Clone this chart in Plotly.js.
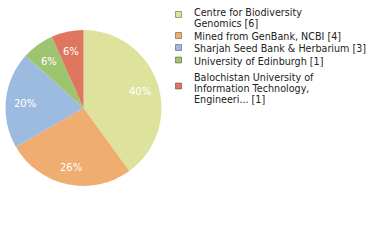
<!DOCTYPE html>
<html><head><meta charset="utf-8">
<script src="https://cdn.plot.ly/plotly-3.0.1.min.js"></script>
<style>html,body{margin:0;padding:0;background:#fff}#c{width:380px;height:240px}</style>
</head><body><div id="c"></div>
<script>
const labels = ["Centre for Biodiversity<br>Genomics [6]", "Mined from GenBank, NCBI [4]", "Sharjah Seed Bank &amp; Herbarium [3]", "University of Edinburgh [1]", "Balochistan University of<br>Information Technology,<br>Engineeri... [1]"];
const values = [6, 4, 3, 1, 1];
const colors = ["#dde39d", "#f0ad70", "#9dbbe0", "#9dc570", "#df7760"];

const W = 380, H = 240;
const total = values.reduce((a, b) => a + b, 0);
const pctText = values.map(v => Math.floor(v / total * 100) + "%");

// pie geometry (pixels)
const cx = 83.5, cy = 108, R = 78;
const annotations = [];
let acc = 0;
values.forEach((v, i) => {
  const mid = (acc + v / 2) / total * 2 * Math.PI;
  acc += v;
  const px = cx + 0.76 * R * Math.sin(mid);
  const py = cy - 0.76 * R * Math.cos(mid) + 1.5;
  annotations.push({xref: "paper", yref: "paper", x: px / W, y: 1 - py / H,
    xanchor: "center", yanchor: "middle", showarrow: false, text: pctText[i],
    font: {family: "DejaVu Sans", size: 10, color: "#fff"}});
});

// legend (drawn manually)
const markerY = [14.5, 35.5, 47.5, 60, 86];
const firstLineY = [12, 36.5, 49, 61, 77.5];
const lineStep = 11;
const shapes = [];
labels.forEach((lab, i) => {
  const lines = lab.split("<br>");
  lines.forEach((ln, j) => {
    const py = firstLineY[i] + j * lineStep;
    annotations.push({xref: "paper", yref: "paper", x: 192 / W, y: 1 - py / H,
      xanchor: "left", yanchor: "middle", showarrow: false, text: ln,
      font: {family: "DejaVu Sans", size: 9.6, color: "#222"}});
  });
  const my = markerY[i];
  shapes.push({type: "rect", xref: "paper", yref: "paper",
    x0: 175.5 / W, x1: 181.5 / W, y0: 1 - (my - 3) / H, y1: 1 - (my + 3) / H,
    fillcolor: colors[i], line: {color: "rgba(0,0,0,0.35)", width: 1}});
});

Plotly.newPlot("c", [{
  type: "pie", labels: labels, values: values,
  textinfo: "none", sort: false, direction: "clockwise", rotation: 0,
  marker: {colors: colors, line: {width: 0}},
  domain: {x: [(cx - R) / W, (cx + R) / W], y: [1 - (cy + R) / H, 1 - (cy - R) / H]},
  hoverinfo: "none"
}], {
  width: W, height: H, margin: {l: 0, r: 0, t: 0, b: 0},
  showlegend: false, annotations: annotations, shapes: shapes,
  paper_bgcolor: "#fff"
}, {staticPlot: true});
</script></body></html>
